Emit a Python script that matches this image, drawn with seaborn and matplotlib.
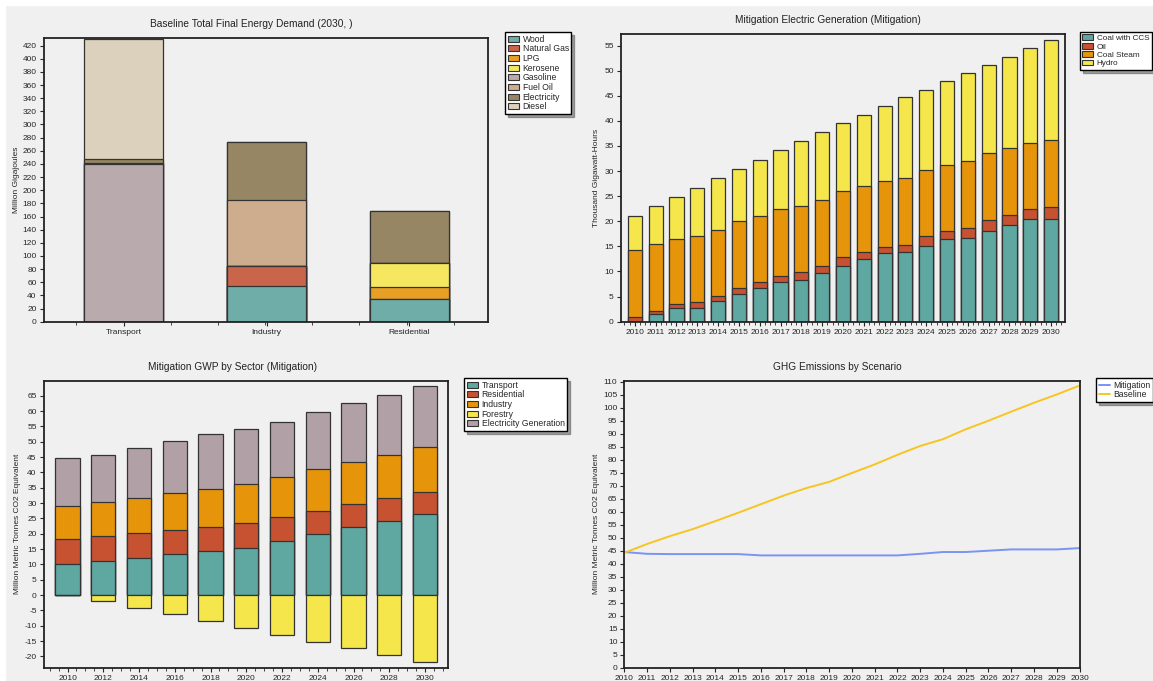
import matplotlib
matplotlib.use("Agg")
import matplotlib.pyplot as plt
from matplotlib.patches import Patch, Rectangle
from matplotlib.lines import Line2D
from matplotlib.ticker import MultipleLocator
import seaborn as sns
import numpy as np
import pandas as pd

sns.set_style("ticks")
plt.rcParams['font.family'] = ['Liberation Sans', 'DejaVu Sans']
plt.rcParams['font.size'] = 6
plt.rcParams['axes.unicode_minus'] = False

BG = '#f0f0f0'
EDGE = '#333333'

# ====================== DATA ======================
# Panel 1: Baseline Total Final Energy Demand (2030)
sectors = ['Transport', 'Industry', 'Residential']
fuels = ['Wood', 'Natural Gas', 'LPG', 'Kerosene', 'Gasoline', 'Fuel Oil', 'Electricity', 'Diesel']
wood        = [0, 55, 34.5]
natural_gas = [0, 30, 0]
lpg         = [0, 0, 18]
kerosene    = [0, 0, 36.5]
gasoline    = [240, 0, 0]
fuel_oil    = [1.5, 100, 0]
electricity = [5.5, 88.5, 79]
diesel      = [183, 0, 0]
fuel_colors = ['#6fada9', '#c8654a', '#e8a024', '#f5e860', '#b9aaae', '#cead8e', '#978663', '#dcd1bd']

# Panel 2: Mitigation Electric Generation
gen_years = list(range(2010, 2031))
coal_ccs   = [0, 1.5, 2.7, 2.7, 4.1, 5.5, 6.8, 8.0, 8.3, 9.6, 11.0, 12.4, 13.6, 13.8, 15.1, 16.4, 16.7, 18.1, 19.2, 20.4, 20.5]
oil        = [0.9, 0.7, 0.8, 1.2, 1.0, 1.3, 1.1, 1.2, 1.5, 1.4, 1.8, 1.4, 1.3, 1.5, 1.9, 1.7, 1.9, 2.1, 2.1, 2.0, 2.4]
coal_steam = [13.3, 13.2, 12.9, 13.2, 13.2, 13.3, 13.2, 13.2, 13.3, 13.3, 13.2, 13.2, 13.1, 13.3, 13.3, 13.2, 13.4, 13.3, 13.3, 13.1, 13.3]
hydro      = [6.9, 7.7, 8.5, 9.6, 10.3, 10.3, 11.2, 11.7, 12.8, 13.4, 13.5, 14.2, 14.9, 16.1, 15.9, 16.6, 17.6, 17.7, 18.2, 19.0, 20.0]
gen_names = ['Coal with CCS', 'Oil', 'Coal Steam', 'Hydro']
gen_colors = ['#5fa7a1', '#c65232', '#e6950b', '#f5e64c']

# Panel 3: Mitigation GWP by Sector
gwp_years = list(range(2010, 2031, 2))
transport   = [10.0, 11.1, 12.2, 13.4, 14.5, 15.3, 17.6, 19.9, 22.1, 24.3, 26.4]
residential = [8.3, 8.1, 8.1, 7.8, 7.8, 8.2, 7.9, 7.6, 7.5, 7.2, 7.2]
industry    = [10.8, 11.1, 11.5, 12.1, 12.3, 12.7, 13.1, 13.5, 13.9, 14.2, 14.6]
forestry    = [0, -2.1, -4.3, -6.3, -8.5, -10.8, -13.0, -15.2, -17.3, -19.5, -21.7]
elec_gen    = [15.5, 15.4, 16.2, 16.9, 17.8, 18.1, 17.7, 18.8, 19.1, 19.6, 20.1]
gwp_names = ['Transport', 'Residential', 'Industry', 'Forestry', 'Electricity Generation']
gwp_colors = ['#5fa7a1', '#c65232', '#e6950b', '#f5e64c', '#b1a1a6']

# Panel 4: GHG Emissions by Scenario
ghg_years = list(range(2010, 2031))
mitigation = [44.5, 43.8, 43.7, 43.7, 43.7, 43.7, 43.2, 43.2, 43.2, 43.2, 43.2, 43.2, 43.2, 43.8, 44.5, 44.5, 45.0, 45.5, 45.5, 45.5, 46.0]
baseline   = [44.2, 47.6, 50.6, 53.3, 56.4, 59.6, 62.9, 66.2, 69.1, 71.5, 74.9, 78.2, 81.9, 85.3, 87.9, 91.7, 95.0, 98.5, 101.9, 105.1, 108.5]

# ====================== PLOT ======================
W, H = 1153, 681
fig = plt.figure(figsize=(W / 100, H / 100), dpi=100, facecolor=BG)
fig.patches.append(Rectangle((0, 1 - 5 / H), 1, 5 / H, transform=fig.transFigure, color='white', zorder=-1))
fig.patches.append(Rectangle((0, 0), 5 / W, 1, transform=fig.transFigure, color='white', zorder=-1))


def px_axes(l, t, r, b):
    return fig.add_axes([l / W, 1 - b / H, (r - l) / W, (b - t) / H])


def style_axes(ax, title, ylabel, ylx):
    ax.set_facecolor(BG)
    for s in ax.spines.values():
        s.set_linewidth(1.3)
        s.set_color('#222222')
    ax.set_title(title, fontsize=7.3, x=0.467, pad=8, color='#222222')
    ax.set_ylabel(ylabel, fontsize=6)
    ax.yaxis.set_label_coords(ylx, 0.5)
    ax.set_xlabel('')
    ax.tick_params(axis='both', labelsize=6, length=3, width=0.8, pad=2, direction='out')
    ax.tick_params(which='minor', length=2, width=0.6)


def stacked(ax, x, layers, colors, width, lw=0.9):
    cum = np.cumsum(np.array(layers, dtype=float), axis=0)
    for i in range(len(layers) - 1, -1, -1):
        sns.barplot(x=x, y=cum[i], color=colors[i], width=width, edgecolor=EDGE,
                    linewidth=lw, saturation=1, ax=ax)


def add_legend(handles, labels, left, top, size=6.2):
    leg = fig.legend(handles, labels, loc='upper left', bbox_to_anchor=(left / W, 1 - top / H),
                     fontsize=size, frameon=True, fancybox=False, shadow=True, framealpha=1,
                     edgecolor='black', handlelength=1.3, handleheight=0.7, labelspacing=0.08,
                     borderpad=0.3, handletextpad=0.45, borderaxespad=0)
    leg.get_frame().set_linewidth(1.0)
    leg.get_frame().set_facecolor('white')


# ---- panel 1
ax1 = px_axes(43.6, 37.7, 488, 321.7)
stacked(ax1, sectors, [wood, natural_gas, lpg, kerosene, gasoline, fuel_oil, electricity, diesel],
        fuel_colors, 0.55)
ax1.set_xlim(-0.56, 2.55)
ax1.set_ylim(0, 432)
ax1.yaxis.set_major_locator(MultipleLocator(20))
ax1.xaxis.set_minor_locator(MultipleLocator(0.33))
style_axes(ax1, 'Baseline Total Final Energy Demand (2030, )', 'Million Gigajoules', -0.053)
add_legend([Patch(facecolor=c, edgecolor=EDGE, linewidth=0.8) for c in fuel_colors], fuels, 505, 32)

# ---- panel 2
ax2 = px_axes(620.7, 34, 1064.6, 321.7)
stacked(ax2, gen_years, [coal_ccs, oil, coal_steam, hydro], gen_colors, 0.68)
ax2.set_xlim(-0.68, 20.65)
ax2.set_ylim(0, 57.3)
ax2.yaxis.set_major_locator(MultipleLocator(5))
ax2.xaxis.set_minor_locator(MultipleLocator(0.25))
style_axes(ax2, 'Mitigation Electric Generation (Mitigation)', 'Thousand Gigawatt-Hours', -0.047)
add_legend([Patch(facecolor=c, edgecolor=EDGE, linewidth=0.8) for c in gen_colors], gen_names, 1080, 32,
           size=5.9)

# ---- panel 3
ax3 = px_axes(43.6, 380.7, 447.7, 667.7)
stacked(ax3, gwp_years, [transport, residential, industry, elec_gen],
        [gwp_colors[0], gwp_colors[1], gwp_colors[2], gwp_colors[4]], 0.675)
sns.barplot(x=gwp_years, y=forestry, color=gwp_colors[3], width=0.675, edgecolor=EDGE,
            linewidth=0.9, saturation=1, ax=ax3)
ax3.set_xlim(-0.67, 10.635)
ax3.set_ylim(-23.7, 69.9)
ax3.yaxis.set_major_locator(MultipleLocator(5))
ax3.xaxis.set_minor_locator(MultipleLocator(0.25))
style_axes(ax3, 'Mitigation GWP by Sector (Mitigation)', 'Million Metric Tonnes CO2 Equivalent', -0.057)
add_legend([Patch(facecolor=c, edgecolor=EDGE, linewidth=0.8) for c in gwp_colors], gwp_names, 464, 378)

# ---- panel 4
ax4 = px_axes(624.4, 380.7, 1079.5, 667.7)
df_ghg = pd.DataFrame({'year': ghg_years * 2,
                       'value': mitigation + baseline,
                       'scenario': ['Mitigation'] * len(ghg_years) + ['Baseline'] * len(ghg_years)})
line_colors = {'Mitigation': '#7b93f2', 'Baseline': '#f7c522'}
sns.lineplot(data=df_ghg, x='year', y='value', hue='scenario', palette=line_colors,
             linewidth=1.4, legend=False, ax=ax4)
ax4.set_xlim(2010, 2030)
ax4.set_ylim(0, 110.4)
ax4.set_xticks(ghg_years)
ax4.yaxis.set_major_locator(MultipleLocator(5))
style_axes(ax4, 'GHG Emissions by Scenario', 'Million Metric Tonnes CO2 Equivalent', -0.053)
add_legend([Line2D([0], [0], color=line_colors[k], lw=1.4) for k in ['Mitigation', 'Baseline']],
           ['Mitigation', 'Baseline'], 1096, 378)

plt.savefig('out.png', dpi=100, facecolor=BG)
